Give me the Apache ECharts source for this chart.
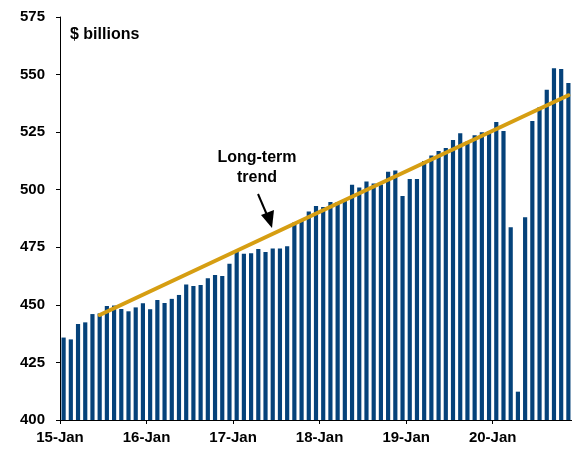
<!DOCTYPE html>
<html>
<head>
<meta charset="utf-8">
<script src="https://cdn.jsdelivr.net/npm/echarts@6/dist/echarts.min.js"></script>
<style>
html,body{margin:0;padding:0;background:#fff;}
#chart{width:572px;height:449px;}
</style>
</head>
<body>
<div id="chart"></div>
<script>
// Monthly categories Jan 2015 .. Nov 2020
var years = ['15','16','17','18','19','20'];
var monthNames = ['Jan','Feb','Mar','Apr','May','Jun','Jul','Aug','Sep','Oct','Nov','Dec'];
var categories = [];
for (var yi = 0; yi < years.length; yi++) {
  for (var m = 0; m < 12; m++) {
    if (yi === 5 && m > 10) break;
    categories.push(monthNames[m] + '-' + years[yi]);
  }
}
var tickLabels = ['15-Jan','16-Jan','17-Jan','18-Jan','19-Jan','20-Jan'];

var values = [
  435.8, 435.0, 441.7, 442.4, 446.0, 446.3, 449.5, 449.7, 448.2, 447.2, 448.9, 450.7,
  448.1, 452.1, 450.8, 452.6, 454.3, 458.8, 458.2, 458.6, 461.5, 463.0, 462.5, 467.8,
  473.6, 472.2, 472.4, 474.3, 473.0, 474.5, 474.5, 475.5, 485.8, 486.4, 490.5, 492.9,
  492.5, 494.7, 494.7, 495.8, 502.2, 501.0, 503.6, 502.7, 502.3, 507.8, 508.3, 497.3,
  504.7, 504.6, 512.5, 514.9, 516.8, 518.1, 521.6, 524.5, 520.9, 523.6, 524.9, 525.4,
  529.4, 525.5, 483.7, 412.3, 488.0, 529.8, 535.8, 543.4, 552.7, 552.4, 546.3
];

// Long-term trend: straight line between two end points
var trendStartIndex = 5, trendStartValue = 445.6;
var trendEndIndex = 70, trendEndValue = 541.0;

var trend = categories.map(function () { return null; });
trend[trendStartIndex] = trendStartValue;
trend[trendEndIndex] = trendEndValue;

// boundary positions for year tick labels (one more than categories)
var boundaries = [];
for (var i = 0; i <= categories.length; i++) boundaries.push(i);

var FONT = 'Liberation Sans, Arial, sans-serif';
var FS = 15;
var chart = echarts.init(document.getElementById('chart'), null, {renderer: 'canvas'});
chart.setOption({
  animation: false,
  backgroundColor: '#ffffff',
  grid: {left: 60, right: 0, top: 17, bottom: 29, containLabel: false},
  xAxis: [
    {
      type: 'category',
      data: categories,
      boundaryGap: true,
      axisLine: {show: true, lineStyle: {color: '#000', width: 1}},
      axisTick: {show: false},
      axisLabel: {show: false},
      splitLine: {show: false}
    },
    {
      type: 'category',
      data: boundaries,
      boundaryGap: false,
      position: 'bottom',
      axisLine: {show: false},
      axisTick: {show: true, interval: 11, length: 4, lineStyle: {color: '#000'}},
      axisLabel: {
        show: true, interval: 11, margin: 10,
        fontFamily: FONT, fontWeight: 'bold', fontSize: FS, color: '#000',
        formatter: function (v) { var k = Number(v) / 12; return tickLabels[k] || ''; }
      },
      splitLine: {show: false}
    }
  ],
  yAxis: {
    type: 'value',
    min: 400, max: 575, interval: 25,
    axisLine: {show: true, lineStyle: {color: '#000', width: 1}},
    axisTick: {show: true, length: 4, lineStyle: {color: '#000'}},
    axisLabel: {margin: 15, fontFamily: FONT, fontWeight: 'bold', fontSize: FS, color: '#000'},
    splitLine: {show: false}
  },
  series: [
    {
      type: 'bar',
      xAxisIndex: 0,
      data: values,
      barWidth: '58%',
      itemStyle: {color: '#05427A'},
      z: 2
    },
    {
      type: 'line',
      xAxisIndex: 0,
      data: trend,
      connectNulls: true,
      symbol: 'none',
      lineStyle: {color: '#D69E12', width: 4, cap: 'round'},
      z: 3
    }
  ],
  graphic: [
    {type: 'text', left: 70, top: 27,
     style: {text: '$ billions', fontFamily: FONT, fontWeight: 'bold', fontSize: 16, fill: '#000'}},
    {type: 'text', x: 257, y: 168,
     style: {text: 'Long-term\ntrend', fontFamily: FONT, fontWeight: 'bold', fontSize: 16, lineHeight: 20,
             fill: '#000', align: 'center', verticalAlign: 'middle'}},
    {type: 'line', shape: {x1: 258, y1: 194, x2: 267, y2: 215},
     style: {stroke: '#000', lineWidth: 2}},
    {type: 'polygon', shape: {points: [[272, 228], [261, 215], [274, 210]]},
     style: {fill: '#000'}}
  ]
});
</script>
</body>
</html>
